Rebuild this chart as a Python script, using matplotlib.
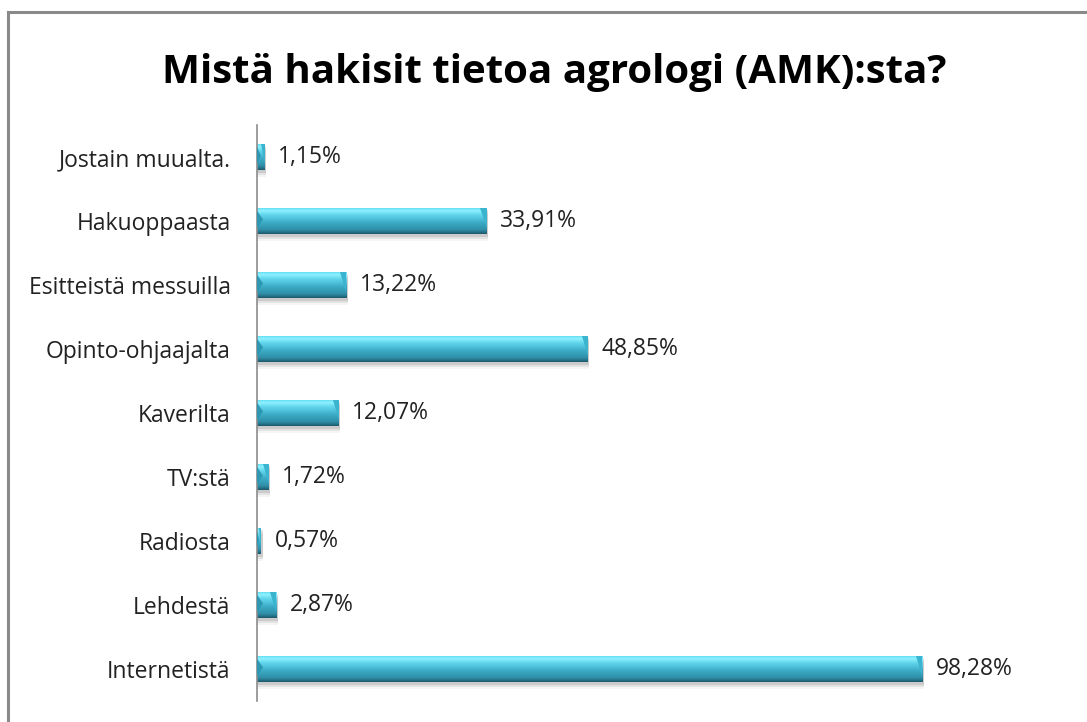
import matplotlib.pyplot as plt
import numpy as np
from matplotlib.colors import LinearSegmentedColormap
from matplotlib.patches import Rectangle

categories = ['Jostain muualta.', 'Hakuoppaasta', 'Esitteistä messuilla',
              'Opinto-ohjaajalta', 'Kaverilta', 'TV:stä', 'Radiosta',
              'Lehdestä', 'Internetistä']
values = [1.15, 33.91, 13.22, 48.85, 12.07, 1.72, 0.57, 2.87, 98.28]
value_labels = ['1,15%', '33,91%', '13,22%', '48,85%', '12,07%',
                '1,72%', '0,57%', '2,87%', '98,28%']

W, H = 1087, 722
fig = plt.figure(figsize=(W / 100, H / 100), dpi=100)
plt.rcParams['font.family'] = ['Open Sans', 'DejaVu Sans']

# outer chart border (cut off at right and bottom)
fig.add_artist(plt.Line2D([8 / W, 1], [1 - 12 / H, 1 - 12 / H], color='#8a8a8a', lw=2.2))
fig.add_artist(plt.Line2D([8 / W, 8 / W], [0, 1 - 12 / H], color='#8a8a8a', lw=2.2))

ax = fig.add_axes([257 / W, 1 - 701 / H, (934 - 257) / W, (701 - 125) / H])
ax.set_xlim(0, 100)
y = np.arange(len(categories))
ax.set_ylim(len(categories) - 0.5, -0.5)

bar_h = 0.42
# vertical gradient for the glossy bars (top -> bottom)
cmap = LinearSegmentedColormap.from_list('gloss', [
    (0.0, '#56d6ee'), (0.12, '#8ef2ff'), (0.3, '#5fd3ea'),
    (0.6, '#3aa9c4'), (0.85, '#2f8ea8'), (1.0, '#1d5a6b')])
grad = np.linspace(0, 1, 64).reshape(-1, 1)

for yi, v, lab in zip(y, values, value_labels):
    # soft shadow under the bar
    for k, a in enumerate([0.10, 0.07, 0.04]):
        ax.add_patch(Rectangle((0, yi - bar_h / 2 + 0.04 + k * 0.03), v + 0.25, bar_h,
                               color='black', alpha=a, lw=0, zorder=1))
    bar = ax.barh(yi, v, height=bar_h, color='none', zorder=2)[0]
    im = ax.imshow(grad, aspect='auto', cmap=cmap, zorder=2,
                   extent=[0, v, yi + bar_h / 2, yi - bar_h / 2])
    im.set_clip_path(bar)
    # bevelled end caps
    cap = min(0.9, v / 2)
    ax.fill([v - cap, v, v], [yi - bar_h / 2, yi - bar_h / 2, yi + bar_h / 4],
            color='#3bb4cf', lw=0, zorder=3)
    ax.fill([0, cap, 0], [yi - bar_h / 2 + 0.05, yi - 0.02, yi + bar_h / 4],
            color='#2e97b2', lw=0, zorder=3)
    ax.text(v + 2.0, yi, lab, va='center', ha='left',
            fontsize=16.5, color='#222222')

ax.set_yticks(y)
ax.set_yticklabels(categories, fontsize=16.5, color='#222222')
ax.tick_params(axis='y', length=0, pad=19)
ax.set_xticks([])
for s in ['top', 'right', 'bottom']:
    ax.spines[s].set_visible(False)
ax.spines['left'].set_color('#8c8c8c')
ax.spines['left'].set_linewidth(1.2)

fig.text(554 / W, 1 - 72 / H, 'Mistä hakisit tietoa agrologi (AMK):sta?',
         ha='center', va='center', fontsize=29, fontweight='bold', color='black')

fig.savefig('out.png', dpi=100)
